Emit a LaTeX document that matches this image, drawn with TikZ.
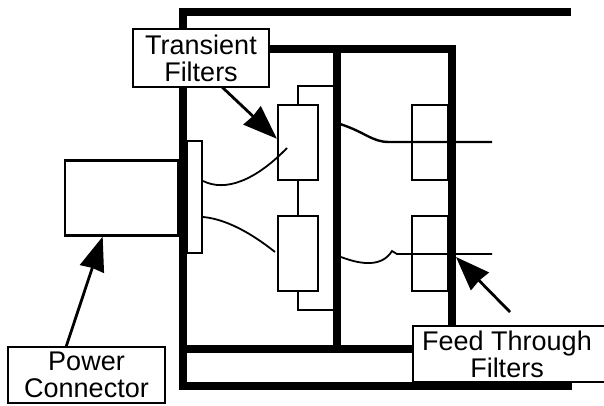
\documentclass[tikz,border=0pt]{standalone}
\usepackage{fontspec}
\setmainfont{Liberation Sans}
\usetikzlibrary{arrows.meta}

\begin{document}
\begin{tikzpicture}[x=1pt,y=-1pt]
\tikzset{
  wall/.style={line width=8pt,line cap=butt},
  wire/.style={line width=1.8pt},
  heavywire/.style={line width=2.4pt},
  busline/.style={line width=1.4pt},
  partbox/.style={rectangle,draw,line width=2.2pt,inner sep=0pt,fill=white},
  filterbox/.style={partbox,minimum width=40pt,minimum height=75pt},
  thrubox/.style={partbox,minimum width=36pt,minimum height=75pt},
  callout/.style={rectangle,draw,line width=2.4pt,fill=white,inner sep=0pt,align=center,
    font=\fontsize{27}{27}\selectfont},
  pointer/.style={-{Stealth[length=34pt,width=25pt,inset=1pt]},line width=2.8pt}
}
\useasboundingbox (0,0) rectangle (604,405);
% outer case and inner wall
\coordinate (c_tl) at (183,11.5);
\coordinate (c_tr) at (571,11.5);
\coordinate (c_bl) at (183,386);
\coordinate (c_br) at (572,386);
\coordinate (i_tl) at (183,49);
\coordinate (i_tr) at (452,49);
\coordinate (i_br) at (452,349);
\coordinate (i_bl) at (183,349);
\coordinate (d_t) at (336.5,49);
\coordinate (d_b) at (336.5,349);
\draw[wall,line join=miter] (c_tr) -- (c_tl) -- (c_bl) -- (c_br);
\draw[wall,line join=miter] (i_tl) -- (i_tr) -- (i_br);
\draw[wall] (i_bl) -- (i_br);
\draw[wall] (d_t) -- (d_b);
% parts
\node[partbox,minimum width=113pt,minimum height=75pt] (n_conn) at (121.5,198) {};
\node[partbox,minimum width=15pt,minimum height=112pt] (n_flange) at (194.5,197) {};
\coordinate (b_top) at (298,86);
\coordinate (b_bot) at (298,310);
\coordinate (b_topr) at (333,86);
\coordinate (b_botr) at (333,310);
\draw[busline] (b_topr) -- (b_top) -- (b_bot) -- (b_botr);
\node[filterbox] (n_tf_0) at (298,142.5) {};
\node[filterbox] (n_tf_1) at (298,253.5) {};
\node[thrubox] (n_ft_0) at (430,142.5) {};
\node[thrubox] (n_ft_1) at (430,253.5) {};
% wires
\coordinate (w_a) at (287,148);
\coordinate (w_b) at (275,252);
\coordinate (w_c) at (340,124);
\coordinate (w_d) at (389,142);
\coordinate (w_e) at (492,142);
\coordinate (w_f) at (341,257);
\coordinate (w_g) at (392,251);
\coordinate (w_h) at (492,254);
\draw[wire] (n_flange.east |- 0,181) .. controls (225,192) and (255,181) .. (w_a);
\draw[wire] (n_flange.east |- 0,217) .. controls (225,219) and (250,232) .. (w_b);
\draw[heavywire] (w_c) .. controls (365,132) and (372,142) .. (w_d) -- (w_e);
\draw[wire] (w_f) .. controls (362,265) and (382,267) .. (w_g) -- (397,254) -- (w_h);
% callouts
\node[callout,minimum width=136pt,minimum height=58pt] (n_trans) at (201,58) {Transient\\Filters};
\node[callout,minimum width=157pt,minimum height=56pt] (n_power) at (86.5,375) {Power\\Connector};
\node[callout,minimum width=196pt,minimum height=56pt] (n_feed) at (511,354) {Feed Through\hspace*{8pt}\\Filters\hspace*{8pt}};
\coordinate (p_trans) at (222,87);
\coordinate (p_power) at (66,347);
\coordinate (p_feed) at (510,312);
\coordinate (p_wall) at (456,257);
\draw[pointer] (p_trans) -- (n_tf_0.170);
\draw[pointer] (p_power) -- (n_conn.244);
\draw[pointer] (p_feed) -- (p_wall);
\end{tikzpicture}
\end{document}
